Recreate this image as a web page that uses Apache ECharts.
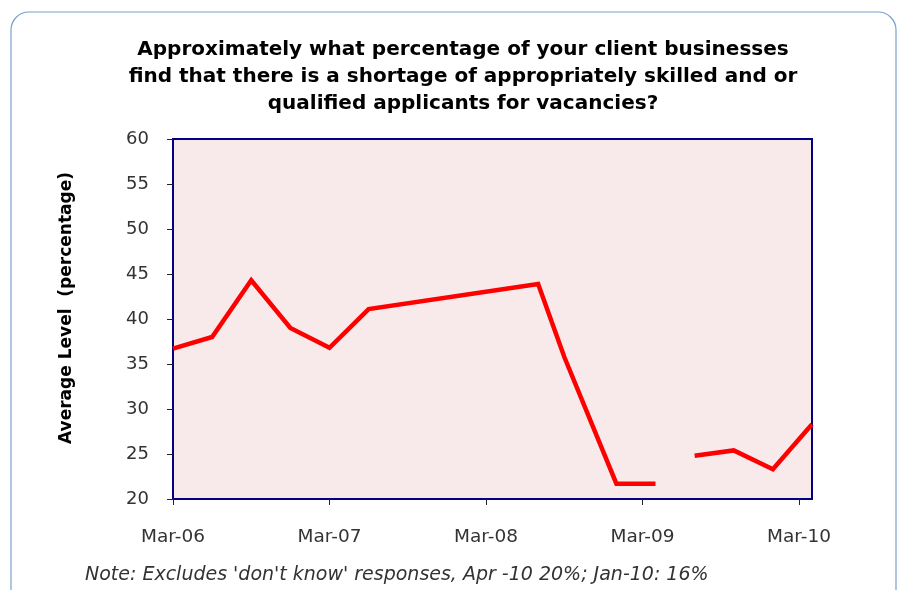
<!DOCTYPE html>
<html><head><meta charset="utf-8">
<script src="https://cdn.jsdelivr.net/npm/echarts@6/dist/echarts.min.js"></script>
<style>html,body{margin:0;padding:0;background:#fff}#c{width:899px;height:590px}</style>
</head><body><div id="c"></div>
<script>
const titleLines = [
  'Approximately what percentage of your client businesses',
  'find that there is a shortage of appropriately skilled and or',
  'qualified applicants for vacancies?'
];
const yAxisName = 'Average Level  (percentage)';
const noteText = "Note: Excludes 'don't know' responses, Apr -10 20%; Jan-10: 16%";
const dates = ['2006-03','2006-06','2006-09','2006-12','2007-03','2007-06','2008-07','2008-09','2009-01','2009-04','2009-06','2009-07','2009-10','2010-01','2010-04'];
const values = [36.7,38.0,44.3,39.0,36.8,41.1,43.9,35.8,21.7,21.7,null,24.8,25.4,23.3,28.3];
const xTickLabels = ['Mar-06','Mar-07','Mar-08','Mar-09','Mar-10'];

const FONT = 'DejaVu Sans';
const monthIndex = s => { const [y,m] = s.split('-').map(Number); return (y-2006)*12 + (m-3); };
const seriesData = dates.map((d,i) => [monthIndex(d), values[i]]);
const xTickValues = xTickLabels.map((_,i) => i*12);

const chart = echarts.init(document.getElementById('c'), null, {renderer:'canvas'});
chart.setOption({
  animation:false,
  backgroundColor:'#fff',
  title:{
    text: titleLines.join('\n'),
    left: 458, top: 31, textAlign:'center',
    textStyle:{fontFamily:FONT, fontWeight:'bold', fontSize:20, color:'#000', lineHeight:27}
  },
  grid:{left:173, top:139, right:87, bottom:91, show:true, backgroundColor:'#f8eaea', borderColor:'#000080', borderWidth:2},
  xAxis:{
    type:'value', min:0, max:49, interval:12,
    axisLine:{show:true, lineStyle:{color:'#000080', width:2}},
    axisTick:{show:true, length:6, customValues:xTickValues, lineStyle:{color:'#222'}},
    axisLabel:{customValues:xTickValues, margin:29, fontFamily:FONT, fontSize:18.5, color:'#333',
      formatter: v => xTickLabels[Math.round(v/12)] || ''},
    splitLine:{show:false}
  },
  yAxis:{
    type:'value', min:20, max:60, interval:5,
    axisLine:{show:true, lineStyle:{color:'#000080', width:2}},
    axisTick:{show:true, length:6, lineStyle:{color:'#222'}},
    axisLabel:{margin:24, fontFamily:FONT, fontSize:18, color:'#333'},
    splitLine:{show:false}
  },
  series:[{
    type:'line', data:seriesData, showSymbol:false, connectNulls:false,
    lineStyle:{color:'#ff0000', width:4.5, join:'miter'}
  }],
  graphic:[
    {type:'rect', shape:{x:11, y:12, width:885, height:640, r:18}, style:{fill:'none', stroke:'#7a9fd0', lineWidth:1.2}, silent:true},
    {type:'text', x:67, y:308, rotation:Math.PI/2, style:{text:yAxisName, fontFamily:FONT, fontWeight:'bold', fontSize:17, fill:'#000', align:'center', verticalAlign:'middle'}},
    {type:'text', x:85, y:575, style:{text:noteText, fontFamily:FONT, fontStyle:'italic', fontSize:19, fill:'#333', align:'left', verticalAlign:'middle'}}
  ]
});
</script></body></html>
